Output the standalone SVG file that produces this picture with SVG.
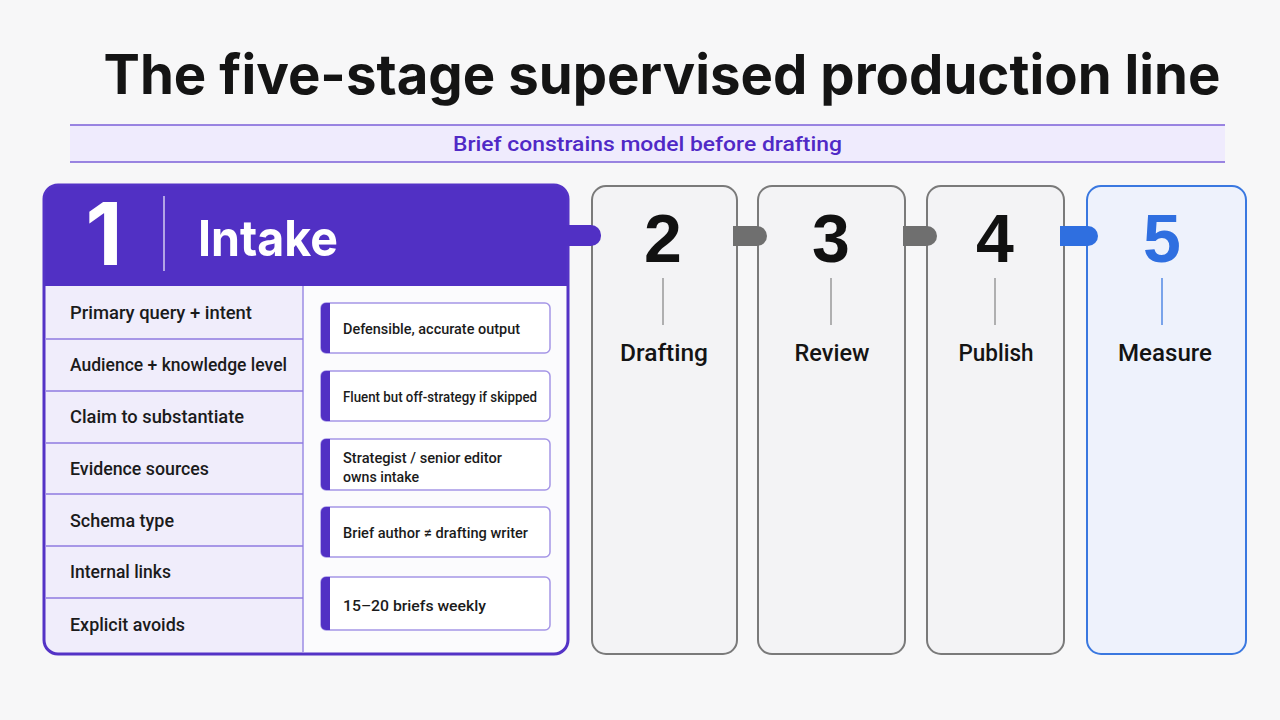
<svg xmlns="http://www.w3.org/2000/svg" width="1280" height="720" viewBox="0 0 1280 720">
  <defs>
    <style>
      .title{font-family:Inter,"Liberation Sans",sans-serif;font-weight:700;fill:#141414}
      .banner{font-family:Roboto,"Liberation Sans",sans-serif;font-weight:500;fill:#5029c6;font-size:20px}
      .row{font-family:Roboto,"Liberation Sans",sans-serif;font-weight:500;fill:#1b1b1b;font-size:18px}
      .note{font-family:Roboto,"Liberation Sans",sans-serif;font-weight:500;fill:#1b1b1b;font-size:15px}
      .num{font-family:"Liberation Sans",Arial,sans-serif;font-weight:700;font-size:68px;text-anchor:middle;fill:#111}
      .stage{font-family:Roboto,"Liberation Sans",sans-serif;font-weight:500;font-size:23px;text-anchor:middle;fill:#141414}
      .card{fill:#f3f3f5;stroke:#7a7a7a;stroke-width:2}
      .tick{stroke:#8a8a8a;stroke-width:1.3}
      .sep{stroke:#8f7ae0;stroke-width:1.5}
      .nbox{fill:#ffffff;stroke:#a596e6;stroke-width:1.5}
      .bar{fill:#5130c4}
    </style>
    <clipPath id="c1">
      <rect x="44" y="185" width="524" height="469" rx="14"/>
    </clipPath>
  </defs>
  <rect width="1280" height="720" fill="#f7f7f8"/>

  <text class="title" x="662" y="94" font-size="55" text-anchor="middle" textLength="1117" lengthAdjust="spacingAndGlyphs">The five-stage supervised production line</text>

  <g id="banner">
    <rect x="70" y="125" width="1155" height="37" fill="#efebfd"/>
    <line x1="70" y1="125" x2="1225" y2="125" stroke="#7b5fd8" stroke-width="1.5"/>
    <line x1="70" y1="162" x2="1225" y2="162" stroke="#7b5fd8" stroke-width="1.5"/>
    <text class="banner" x="453" y="151" textLength="389" lengthAdjust="spacingAndGlyphs">Brief constrains model before drafting</text>
  </g>

  <g id="stage2">
    <rect class="card" x="592" y="186" width="145" height="468" rx="14"/>
    <text class="num" x="663" y="262">2</text>
    <line class="tick" x1="663" y1="278" x2="663" y2="325"/>
    <text class="stage" x="664" y="361" textLength="88" lengthAdjust="spacingAndGlyphs">Drafting</text>
  </g>
  <g id="stage3">
    <rect class="card" x="758" y="186" width="147" height="468" rx="14"/>
    <text class="num" x="831" y="262">3</text>
    <line class="tick" x1="831" y1="278" x2="831" y2="325"/>
    <text class="stage" x="832" y="361" textLength="75" lengthAdjust="spacingAndGlyphs">Review</text>
  </g>
  <g id="stage4">
    <rect class="card" x="927" y="186" width="137" height="468" rx="14"/>
    <text class="num" x="995" y="262">4</text>
    <line class="tick" x1="995" y1="278" x2="995" y2="325"/>
    <text class="stage" x="996" y="361" textLength="75" lengthAdjust="spacingAndGlyphs">Publish</text>
  </g>
  <g id="stage5">
    <rect x="1087" y="186" width="159" height="468" rx="14" fill="#eef2fc" stroke="#3a78e0" stroke-width="2"/>
    <text class="num" x="1162" y="262" style="fill:#2f6fe0">5</text>
    <line x1="1162" y1="278" x2="1162" y2="325" stroke="#3a78e0" stroke-width="1.3"/>
    <text class="stage" x="1165" y="361" textLength="94" lengthAdjust="spacingAndGlyphs">Measure</text>
  </g>

  <g id="stage1">
    <g clip-path="url(#c1)">
      <rect x="44" y="185" width="524" height="469" fill="#f0edfb"/>
      <rect x="303" y="286" width="265" height="368" fill="#fbfbfd"/>
      <rect x="44" y="185" width="524" height="101" fill="#5130c4"/>
    </g>
    <line x1="303" y1="286" x2="303" y2="652" stroke="#9d8ce4" stroke-width="1.5"/>
    <rect x="44" y="185" width="524" height="469" rx="14" fill="none" stroke="#5433c6" stroke-width="3"/>
    <text x="104" y="265" text-anchor="middle" font-family="Inter,'Liberation Sans',sans-serif" font-weight="700" font-size="86" fill="#ffffff">1</text>
    <line x1="164" y1="196" x2="164" y2="271" stroke="#ffffff" stroke-opacity="0.75" stroke-width="1.5"/>
    <text x="198" y="256" font-family="Inter,'Liberation Sans',sans-serif" font-weight="700" font-size="50" fill="#ffffff" textLength="140" lengthAdjust="spacingAndGlyphs">Intake</text>

    <line class="sep" x1="46" y1="339" x2="303" y2="339"/>
    <line class="sep" x1="46" y1="391" x2="303" y2="391"/>
    <line class="sep" x1="46" y1="443" x2="303" y2="443"/>
    <line class="sep" x1="46" y1="494" x2="303" y2="494"/>
    <line class="sep" x1="46" y1="546" x2="303" y2="546"/>
    <line class="sep" x1="46" y1="598" x2="303" y2="598"/>

    <text class="row" x="70" y="319" textLength="182" lengthAdjust="spacingAndGlyphs">Primary query + intent</text>
    <text class="row" x="70" y="371" textLength="217" lengthAdjust="spacingAndGlyphs">Audience + knowledge level</text>
    <text class="row" x="70" y="423" textLength="174" lengthAdjust="spacingAndGlyphs">Claim to substantiate</text>
    <text class="row" x="70" y="475" textLength="139" lengthAdjust="spacingAndGlyphs">Evidence sources</text>
    <text class="row" x="70" y="527" textLength="104" lengthAdjust="spacingAndGlyphs">Schema type</text>
    <text class="row" x="70" y="578" textLength="101" lengthAdjust="spacingAndGlyphs">Internal links</text>
    <text class="row" x="70" y="631" textLength="115" lengthAdjust="spacingAndGlyphs">Explicit avoids</text>

    <g>
      <rect class="nbox" x="321" y="303" width="229" height="50" rx="5"/>
      <path class="bar" d="M326,303 h4 v50 h-4 a5,5 0 0 1 -5,-5 v-40 a5,5 0 0 1 5,-5 z"/>
      <text class="note" x="343" y="334" textLength="177" lengthAdjust="spacingAndGlyphs">Defensible, accurate output</text>
    </g>
    <g>
      <rect class="nbox" x="321" y="371" width="229" height="50" rx="5"/>
      <path class="bar" d="M326,371 h4 v50 h-4 a5,5 0 0 1 -5,-5 v-40 a5,5 0 0 1 5,-5 z"/>
      <text class="note" x="343" y="402" textLength="194" lengthAdjust="spacingAndGlyphs">Fluent but off-strategy if skipped</text>
    </g>
    <g>
      <rect class="nbox" x="321" y="439" width="229" height="51" rx="5"/>
      <path class="bar" d="M326,439 h4 v51 h-4 a5,5 0 0 1 -5,-5 v-41 a5,5 0 0 1 5,-5 z"/>
      <text class="note" x="343" y="463" textLength="159" lengthAdjust="spacingAndGlyphs">Strategist / senior editor</text>
      <text class="note" x="343" y="482" textLength="76" lengthAdjust="spacingAndGlyphs">owns intake</text>
    </g>
    <g>
      <rect class="nbox" x="321" y="507" width="229" height="50" rx="5"/>
      <path class="bar" d="M326,507 h4 v50 h-4 a5,5 0 0 1 -5,-5 v-40 a5,5 0 0 1 5,-5 z"/>
      <text class="note" x="343" y="538" textLength="185" lengthAdjust="spacingAndGlyphs">Brief author ≠ drafting writer</text>
    </g>
    <g>
      <rect class="nbox" x="321" y="577" width="229" height="53" rx="5"/>
      <path class="bar" d="M326,577 h4 v53 h-4 a5,5 0 0 1 -5,-5 v-43 a5,5 0 0 1 5,-5 z"/>
      <text class="note" x="343" y="611" textLength="143" lengthAdjust="spacingAndGlyphs">15–20 briefs weekly</text>
    </g>
  </g>

  <g id="connectors">
    <path d="M566,225 h25 a10,10 0 0 1 10,10 v1 a10,10 0 0 1 -10,10 h-25 z" fill="#5130c4"/>
    <path d="M733,226 h24 a10,10 0 0 1 10,10 v0 a10,10 0 0 1 -10,10 h-24 z" fill="#6f6f6f"/>
    <path d="M903,226 h24 a10,10 0 0 1 10,10 v0 a10,10 0 0 1 -10,10 h-24 z" fill="#6f6f6f"/>
    <path d="M1060,226 h28 a10,10 0 0 1 10,10 v0 a10,10 0 0 1 -10,10 h-28 z" fill="#2f6fe0"/>
  </g>
</svg>
